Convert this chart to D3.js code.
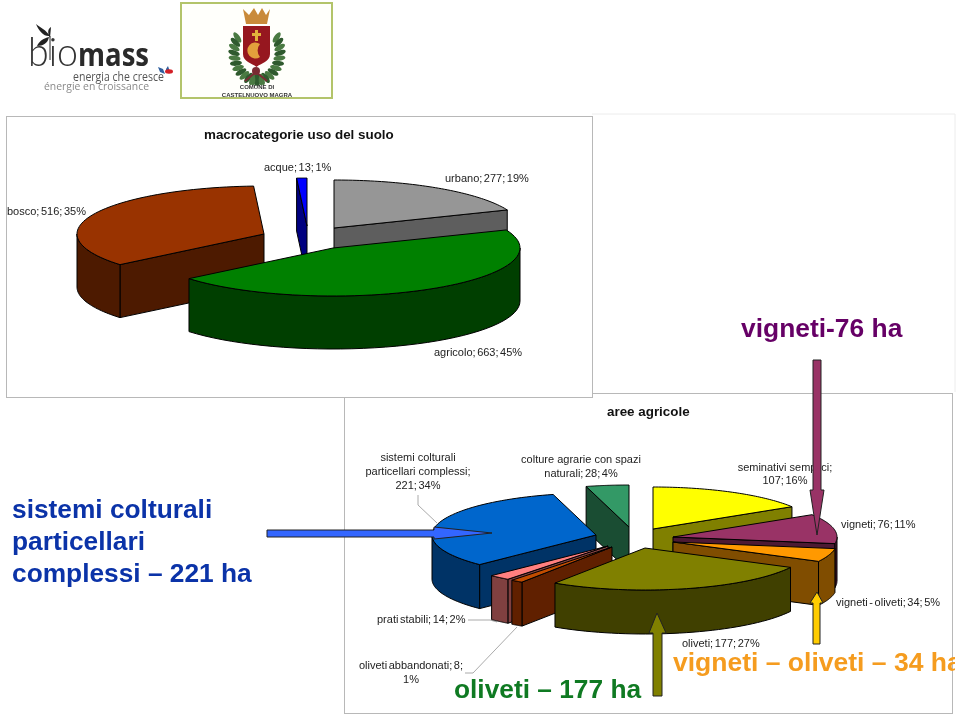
<!DOCTYPE html>
<html>
<head>
<meta charset="utf-8">
<script src="https://cdn.jsdelivr.net/npm/d3@7"></script>
<style>
html, body { margin: 0; padding: 0; background: #fff; overflow: hidden; }
svg { display: block; font-family: "Liberation Sans", Arial, sans-serif; filter: blur(0.3px); }
</style>
</head>
<body>
<script>
// macrocategorie uso del suolo
var macroNames = ["urbano", "agricolo", "bosco", "acque"];
var macroValues = [277, 663, 516, 13];
var macroPct = [19, 45, 35, 1];
var macroTop = ["#969696", "#008000", "#993300", "#0000ff"];
var macroSide = ["#5e5e5e", "#003f00", "#4d1a00", "#000080"];

// aree agricole
var agriNames = ["seminativi semplici", "vigneti", "vigneti - oliveti", "oliveti",
    "oliveti abbandonati", "prati stabili", "sistemi colturali particellari complessi",
    "colture agrarie con spazi naturali"];
var agriValues = [107, 76, 34, 177, 8, 14, 221, 28];
var agriPct = [16, 11, 5, 27, 1, 2, 34, 4];
var agriTop = ["#ffff00", "#993366", "#ff9900", "#808000", "#c04c00", "#ff8080", "#0066cc", "#339966"];
var agriSide = ["#808000", "#4d1a33", "#804d00", "#404000", "#602000", "#804040", "#003366", "#1a4d33"];

var svg = d3.select("body").append("svg")
    .attr("width", 960)
    .attr("height", 716);

var defs = svg.append("defs");
defs.append("clipPath").attr("id", "pageclip")
    .append("rect").attr("width", 955).attr("height", 716);

var pie = d3.pie().sort(null).startAngle(0).endAngle(2 * Math.PI);

// one exploded slice: visible cut faces, then outer wall, then top
function drawSlice(g, a0, a1, c, rx, ry, depth, top, side) {
    function pt(a) { return [c[0] + rx * Math.sin(a), c[1] - ry * Math.cos(a)]; }
    function down(p) { return [p[0], p[1] + depth]; }
    var line = d3.line();
    function face(a) {
        var p = pt(a);
        g.append("path")
            .attr("d", line([c, p, down(p), down(c)]) + "Z")
            .attr("fill", side).attr("stroke", "#000").attr("stroke-linejoin", "round");
    }
    if (Math.sin(a0) < -1e-6) face(a0);
    if (Math.sin(a1) > 1e-6) face(a1);

    var w0 = Math.max(a0, Math.PI / 2), w1 = Math.min(a1, 3 * Math.PI / 2);
    if (w1 > w0) {
        var steps = d3.range(0, 41).map(function(i) { return w0 + (w1 - w0) * i / 40; });
        var upper = steps.map(pt);
        var lower = upper.map(down).reverse();
        g.append("path")
            .attr("d", line(upper.concat(lower)) + "Z")
            .attr("fill", side).attr("stroke", "#000").attr("stroke-linejoin", "round");
    }
    var arc = d3.range(0, 61).map(function(i) { return pt(a0 + (a1 - a0) * i / 60); });
    g.append("path")
        .attr("d", line([c].concat(arc)) + "Z")
        .attr("fill", top).attr("stroke", "#000").attr("stroke-linejoin", "round");
}

function drawPie(values, top, side, centres, order, rx, ry, depth) {
    var arcs = pie(values);
    var g = svg.append("g");
    order.forEach(function(i) {
        drawSlice(g, arcs[i].startAngle, arcs[i].endAngle, centres[i], rx, ry, depth, top[i], side[i]);
    });
}

function label(name, value, pct, x, y, lineLens, anchor, dy) {
    var full = name + "; " + value + "; " + pct + "%";
    var lines = [], pos = 0;
    (lineLens || [full.length]).forEach(function(n) {
        lines.push(full.substr(pos, n).trim());
        pos += n;
    });
    var t = svg.append("text").attr("font-size", 11).attr("fill", "#222").attr("text-anchor", anchor || "start");
    lines.forEach(function(s, i) {
        t.append("tspan").attr("x", x).attr("y", y + i * (dy || 14))
            .attr("word-spacing", /; \d/.test(s) ? -1.5 : 0)
            .text(s);
    });
}

function arrow(points, fill) {
    svg.append("path")
        .attr("d", d3.line()(points) + "Z")
        .attr("fill", fill).attr("stroke", "#222").attr("stroke-width", 1).attr("stroke-linejoin", "round");
}

// ---- logo biomass ----
var logo = svg.append("g");
logo.append("path").attr("d", "M36 24 C41 28 46 30 50 36 C44 37 39 31 36 24Z").attr("fill", "#222");
logo.append("path").attr("d", "M51 27 L50 38 C47 32 48 29 51 27Z").attr("fill", "#222");
logo.append("path").attr("d", "M49 37 C44 38 39 41 37 46 C43 46 48 43 49 37Z").attr("fill", "#222");
logo.append("path").attr("d", "M50 36 L50 60").attr("stroke", "#222").attr("fill", "none");
logo.append("text").attr("x", 28).attr("y", 66).attr("font-size", 40).attr("fill", "#333")
    .attr("font-family", "Lato, 'Open Sans'").attr("font-weight", 300)
    .attr("textLength", 50).attr("lengthAdjust", "spacingAndGlyphs").text("bio");
logo.append("text").attr("x", 78).attr("y", 66).attr("font-size", 33).attr("fill", "#2a2a2a")
    .attr("font-family", "'Open Sans', Lato").attr("font-weight", 700)
    .attr("textLength", 71).attr("lengthAdjust", "spacingAndGlyphs").text("mass");
logo.append("text").attr("x", 73).attr("y", 81).attr("font-size", 12).attr("fill", "#555")
    .attr("font-family", "'Open Sans'")
    .attr("textLength", 91).attr("lengthAdjust", "spacingAndGlyphs").text("energia che cresce");
logo.append("text").attr("x", 44).attr("y", 90).attr("font-size", 11).attr("fill", "#8a8a8a")
    .attr("font-family", "'Open Sans'")
    .attr("textLength", 105).attr("lengthAdjust", "spacingAndGlyphs").text("énergie en croissance");
logo.append("path").attr("d", "M158 67 L163 69 L165 74 L160 72Z").attr("fill", "#2f5f9f");
logo.append("path").attr("d", "M166 69 L168 66 L170 72 L166 73Z").attr("fill", "#2f5f9f");
logo.append("ellipse").attr("cx", 169).attr("cy", 71.5).attr("rx", 4).attr("ry", 2.2).attr("fill", "#d32027");

// ---- stemma comune ----
var crest = svg.append("g");
crest.append("rect").attr("x", 181).attr("y", 3).attr("width", 151).attr("height", 95)
    .attr("fill", "#fffffb").attr("stroke", "#b3c46a").attr("stroke-width", 2);
// laurel leaves left and right of the shield
d3.range(0, 13).forEach(function(i) {
    var a = (25 + i * 11) * Math.PI / 180;
    [-1, 1].forEach(function(side) {
        var lx = 257 + side * 23 * Math.cos(a - Math.PI / 3.2);
        var ly = 52 + 28 * Math.sin(a - Math.PI / 3.2);
        crest.append("ellipse").attr("cx", lx).attr("cy", ly).attr("rx", 6).attr("ry", 2.6)
            .attr("transform", "rotate(" + (side * (i * 12 - 55)) + " " + lx + " " + ly + ")")
            .attr("fill", i % 2 ? "#2f5a2e" : "#4a7a42");
    });
});
crest.append("path").attr("d", "M243 26 L270 26 L270 54 C270 62 261 63 256.5 67 C252 63 243 62 243 54Z").attr("fill", "#96171f");
crest.append("path").attr("d", "M243 9 L249 15 L254 8 L258 15 L262 8 L266 15 L270 9 L267 24 L246 24Z").attr("fill", "#c98a3a");
crest.append("path").attr("d", "M255 30 H258 V33 H261 V36 H258 V41 H255 V36 H252 V33 H255Z").attr("fill", "#e3b23c");
crest.append("path").attr("d", "M260 44 A8 8 0 1 0 260 57 A10 10 0 0 1 260 44Z").attr("fill", "#e3a03c");
crest.append("circle").attr("cx", 256).attr("cy", 71).attr("r", 4).attr("fill", "#7a2b33");
crest.append("path").attr("d", "M245 81 L256 72 L267 81").attr("stroke", "#7a2b33").attr("stroke-width", 2).attr("fill", "none");
crest.append("text").attr("x", 257).attr("y", 89).attr("text-anchor", "middle").attr("font-size", 6).attr("font-weight", 700).attr("fill", "#333").text("COMUNE DI");
crest.append("text").attr("x", 257).attr("y", 96.5).attr("text-anchor", "middle").attr("font-size", 6).attr("font-weight", 700).attr("fill", "#333").text("CASTELNUOVO MAGRA");

// ---- frames ----
svg.append("path").attr("d", "M592 114 H955 V392").attr("fill", "none").attr("stroke", "#ececec");
svg.append("rect").attr("x", 344.5).attr("y", 393.5).attr("width", 608).attr("height", 320)
    .attr("fill", "#fff").attr("stroke", "#b8b8b8");
svg.append("rect").attr("x", 6.5).attr("y", 116.5).attr("width", 586).attr("height", 281)
    .attr("fill", "#fff").attr("stroke", "#b8b8b8");

// ---- top pie ----
svg.append("text").attr("x", 204).attr("y", 139).attr("font-size", 13.4).attr("font-weight", 700).attr("fill", "#111")
    .text("macrocategorie uso del suolo");
drawPie(macroValues, macroTop, macroSide,
    [[334, 228], [333, 248], [264, 234], [307, 226]], [0, 2, 3, 1], 187, 48, 53);
label(macroNames[0], macroValues[0], macroPct[0], 445, 182);
label(macroNames[1], macroValues[1], macroPct[1], 434, 356);
label(macroNames[2], macroValues[2], macroPct[2], 7, 215);
label(macroNames[3], macroValues[3], macroPct[3], 264, 171);

// ---- bottom pie ----
svg.append("text").attr("x", 607).attr("y", 416).attr("font-size", 13.4).attr("font-weight", 700).attr("fill", "#111")
    .text("aree agricole");

var leaders = svg.append("g").attr("fill", "none").attr("stroke", "#aaa");
leaders.append("path").attr("d", "M418 495 V505 L437 523");
leaders.append("path").attr("d", "M468 620 H490 L497 622");
leaders.append("path").attr("d", "M465 673 H473 L517 627");

drawPie(agriValues, agriTop, agriSide,
    [[653, 529], [673, 537], [673, 542], [645, 548], [612, 547], [608, 546], [596, 535], [629, 527]],
    [0, 7, 6, 1, 2, 5, 4, 3], 164, 42, 44);

label(agriNames[0], agriValues[0], agriPct[0], 785, 471, [21, 9], "middle", 13);
label(agriNames[1], agriValues[1], agriPct[1], 841, 528);
label(agriNames[2], agriValues[2], agriPct[2], 836, 606);
label(agriNames[3], agriValues[3], agriPct[3], 682, 647);
label(agriNames[4], agriValues[4], agriPct[4], 411, 669, [24, 2], "middle");
label(agriNames[5], agriValues[5], agriPct[5], 377, 623);
label(agriNames[6], agriValues[6], agriPct[6], 418, 461, [18, 24, 8], "middle");
label(agriNames[7], agriValues[7], agriPct[7], 581, 463, [26, 16], "middle");

// ---- frecce ----
arrow([[813, 360], [821, 360], [821, 490], [824, 490], [817, 535], [810, 490], [813, 490]], "#993366");
arrow([[267, 530], [434, 530], [434, 527], [492, 533], [434, 539], [434, 537], [267, 537]], "#3366ff");
arrow([[813, 644], [820, 644], [820, 603], [823, 603], [817, 592], [810, 603], [813, 603]], "#ffcc00");
arrow([[653, 696], [662, 696], [662, 633], [666, 633], [657, 613], [649, 633], [653, 633]], "#808000");

// ---- scritte grandi ----
var big = svg.append("g").attr("font-weight", 700).attr("clip-path", "url(#pageclip)");
big.append("text").attr("x", 741).attr("y", 337).attr("font-size", 26.4).attr("fill", "#660066").text("vigneti-76 ha");
["sistemi colturali", "particellari", "complessi – 221 ha"].forEach(function(s, i) {
    big.append("text").attr("x", 12).attr("y", 518 + i * 32).attr("font-size", 26.3).attr("fill", "#0b33a8").text(s);
});
big.append("text").attr("x", 454).attr("y", 698).attr("font-size", 26.3).attr("fill", "#0f7a22").text("oliveti – 177 ha");
big.append("text").attr("x", 673).attr("y", 671).attr("font-size", 26.5).attr("fill", "#f59c1f").text("vigneti – oliveti – 34 ha");
</script>
</body>
</html>
